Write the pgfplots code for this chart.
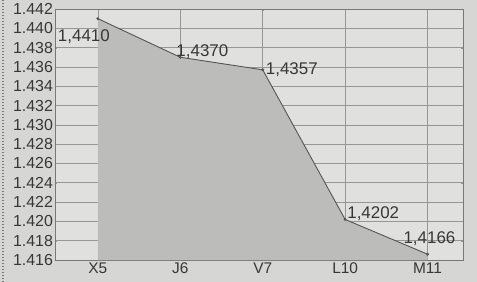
\documentclass[border=0pt]{standalone}
\usepackage{pgfplots}
\pgfplotsset{compat=1.18}
\usepackage{fontspec}
\setmainfont{Liberation Sans}
\definecolor{paper}{RGB}{214,214,212}
\definecolor{plotbg}{RGB}{224,224,222}
\definecolor{areac}{RGB}{188,188,186}
\definecolor{linec}{RGB}{85,85,85}
\definecolor{gridc}{RGB}{150,150,150}
\definecolor{textc}{RGB}{55,55,55}
\begin{document}
\begin{tikzpicture}
\fill[paper] (-55bp,-22bp) rectangle (422bp,260bp);
\path[use as bounding box] (-55bp,-22bp) rectangle (422bp,260bp);
\draw[gridc!80!black, line width=1.2pt, dash pattern=on 1pt off 2pt] (-52bp,-22bp) -- (-52bp,260bp);
\begin{axis}[
  anchor=south west, at={(0,0)},
  scale only axis, width=408bp, height=251bp,
  xmin=-0.52, xmax=4.43, ymin=1.416, ymax=1.442,
  xtick={0,1,2,3,4}, xticklabels={X5,J6,V7,L10,M11},
  ytick={1.416,1.418,...,1.4425},
  /pgf/number format/.cd, fixed, fixed zerofill, precision=3, assume math mode=true,
  /pgfplots/.cd,
  yticklabel style={font=\fontsize{16}{16}\selectfont, text=textc, xshift=1.5bp},
  xticklabel style={font=\fontsize{15.5}{15.5}\selectfont, text=textc, yshift=1bp},
  axis background/.style={fill=plotbg},
  grid=major, major grid style={gridc, line width=0.6pt},
  axis line style={gridc!80!black},
  tick style={gridc}, major tick length=2bp,
]
\addplot[fill=areac, draw=none] coordinates {(0,1.4410) (1,1.4370) (2,1.4357) (3,1.4202) (4,1.4166) (4,1.416) (0,1.416)} -- cycle;
\addplot[linec, line width=0.9pt, mark=*, mark size=1pt] coordinates {(0,1.4410) (1,1.4370) (2,1.4357) (3,1.4202) (4,1.4166)};
\begin{scope}[every node/.style={font=\fontsize{17}{17}\selectfont, text=textc, inner sep=0pt}]
\node[anchor=center, xshift=-14bp, yshift=-18bp] at (axis cs:0,1.4410) {1,4410};
\node[anchor=base west, xshift=-4bp, yshift=1bp] at (axis cs:1,1.4370) {1,4370};
\node[anchor=base west, xshift=3bp, yshift=-5bp] at (axis cs:2,1.4357) {1,4357};
\node[anchor=base west, xshift=2bp, yshift=1bp] at (axis cs:3,1.4202) {1,4202};
\node[anchor=base east, xshift=28bp, yshift=11bp] at (axis cs:4,1.4166) {1,4166};
\end{scope}
\end{axis}
\end{tikzpicture}
\end{document}
